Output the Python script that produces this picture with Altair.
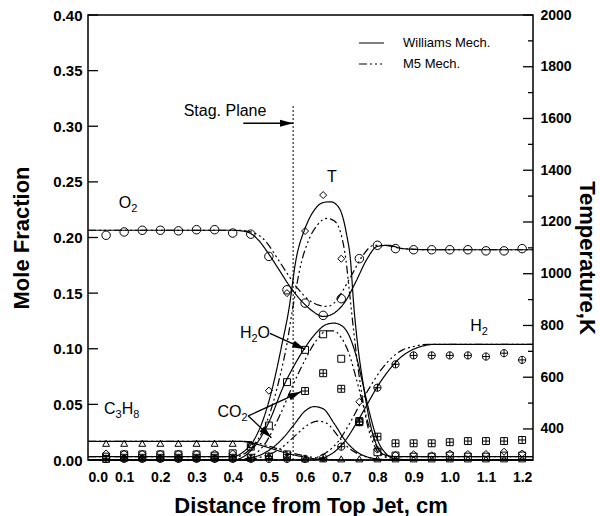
import math
import altair as alt
import pandas as pd

FONT = "Liberation Sans"

# ---------------- measured profiles (symbols) ----------------
x_meas = [0.05, 0.10, 0.15, 0.20, 0.25, 0.30, 0.35, 0.40, 0.45, 0.50, 0.55, 0.60,
          0.65, 0.70, 0.75, 0.80, 0.85, 0.90, 0.95, 1.00, 1.05, 1.10, 1.15, 1.20]
o2_meas = [0.202, 0.205, 0.2065, 0.2065, 0.206, 0.207, 0.207, 0.204, 0.203, 0.183, 0.153, 0.141,
           0.130, 0.145, 0.181, 0.193, 0.190, 0.189, 0.189, 0.189, 0.189, 0.188, 0.188, 0.190]
h2o_meas = [0.003, 0.005, 0.005, 0.005, 0.005, 0.005, 0.004, 0.006, 0.012, 0.031, 0.070, 0.099,
            0.113, 0.091, 0.034, 0.007, 0.004, 0.003, 0.003, 0.004, 0.003, 0.003, 0.004, 0.004]
co2_meas = [0.001, 0.002, 0.002, 0.002, 0.002, 0.002, 0.002, 0.002, 0.002, 0.003, 0.005, 0.062,
            0.078, 0.064, 0.035, 0.021, 0.015, 0.015, 0.015, 0.016, 0.017, 0.017, 0.017, 0.018]
h2_meas = [0.001, 0.001, 0.001, 0.001, 0.001, 0.001, 0.001, 0.001, 0.001, 0.001, 0.001, 0.001,
           0.002, 0.012, 0.034, 0.065, 0.086, 0.094, 0.094, 0.094, 0.094, 0.093, 0.096, 0.090]
c3h8_meas = [0.015, 0.015, 0.015, 0.015, 0.015, 0.015, 0.015, 0.015, 0.014, 0.004, 0.002, 0.001,
             0.001, 0.001, 0.001, 0.001, 0.001, 0.001, 0.001, 0.001, 0.001, 0.001, 0.001, 0.001]
t_meas = [305, 305, 305, 305, 305, 305, 305, 305, 335, 548, 925, 1165,
          1304, 1058, 505, 320, 300, 302, 298, 305, 303, 303, 312, 305]

# ---------------- computed profiles (curves) ----------------
o2_w_x = [0.00, 0.40, 0.44, 0.47, 0.50, 0.53, 0.56, 0.59, 0.62, 0.65, 0.68, 0.71, 0.74, 0.77, 0.80, 0.83, 0.87, 0.95, 1.23]
o2_w = [0.2065, 0.2065, 0.205, 0.198, 0.185, 0.170, 0.155, 0.143, 0.134, 0.129, 0.132, 0.142, 0.160, 0.180, 0.192, 0.193, 0.190, 0.189, 0.189]
o2_m5_x = [0.00, 0.42, 0.46, 0.49, 0.52, 0.55, 0.58, 0.61, 0.64, 0.66, 0.68, 0.70, 0.73, 0.76, 0.79, 0.82, 0.87, 0.95, 1.23]
o2_m5 = [0.2065, 0.2065, 0.204, 0.197, 0.183, 0.168, 0.154, 0.144, 0.139, 0.138, 0.141, 0.150, 0.167, 0.184, 0.193, 0.193, 0.190, 0.189, 0.189]

h2o_w_x = [0.00, 0.40, 0.43, 0.46, 0.50, 0.54, 0.57, 0.60, 0.63, 0.66, 0.68, 0.70, 0.72, 0.74, 0.76, 0.78, 0.80, 0.82, 0.85, 0.90, 1.23]
h2o_w = [0, 0, 0.003, 0.012, 0.034, 0.066, 0.085, 0.101, 0.114, 0.122, 0.123, 0.121, 0.113, 0.095, 0.068, 0.040, 0.018, 0.007, 0.001, 0, 0]
h2o_m5_x = [0.00, 0.42, 0.45, 0.49, 0.53, 0.57, 0.60, 0.63, 0.66, 0.68, 0.70, 0.72, 0.74, 0.76, 0.78, 0.80, 0.82, 0.85, 1.23]
h2o_m5 = [0, 0, 0.003, 0.015, 0.040, 0.070, 0.090, 0.107, 0.116, 0.116, 0.110, 0.097, 0.075, 0.050, 0.027, 0.011, 0.003, 0, 0]

co2_w_x = [0.00, 0.42, 0.45, 0.48, 0.51, 0.54, 0.57, 0.60, 0.625, 0.65, 0.68, 0.71, 0.74, 0.77, 0.80, 0.85, 1.23]
co2_w = [0, 0, 0.002, 0.005, 0.011, 0.020, 0.032, 0.044, 0.048, 0.046, 0.033, 0.018, 0.008, 0.003, 0.001, 0, 0]
co2_m5_x = [0.00, 0.44, 0.47, 0.50, 0.53, 0.56, 0.59, 0.61, 0.635, 0.66, 0.69, 0.72, 0.75, 0.78, 0.82, 1.23]
co2_m5 = [0, 0, 0.002, 0.005, 0.010, 0.018, 0.027, 0.032, 0.035, 0.033, 0.022, 0.011, 0.005, 0.002, 0, 0]

h2_w_x = [0.00, 0.62, 0.65, 0.68, 0.71, 0.74, 0.77, 0.80, 0.83, 0.86, 0.89, 0.92, 0.96, 1.23]
h2_w = [0, 0, 0.002, 0.007, 0.017, 0.032, 0.049, 0.066, 0.080, 0.091, 0.098, 0.102, 0.104, 0.104]
h2_m5_x = [0.00, 0.60, 0.63, 0.66, 0.69, 0.72, 0.75, 0.78, 0.81, 0.84, 0.87, 0.90, 0.94, 1.23]
h2_m5 = [0, 0, 0.002, 0.007, 0.016, 0.031, 0.049, 0.066, 0.081, 0.092, 0.099, 0.102, 0.104, 0.104]

c3h8_w_x = [0.00, 0.42, 0.45, 0.48, 0.51, 0.54, 0.57, 0.60, 0.63, 0.66, 0.70, 1.23]
c3h8_w = [0.0168, 0.0168, 0.0155, 0.013, 0.010, 0.007, 0.0045, 0.0025, 0.001, 0.0003, 0, 0]
c3h8_m5_x = [0.00, 0.43, 0.46, 0.49, 0.52, 0.55, 0.58, 0.61, 0.64, 0.68, 0.72, 1.23]
c3h8_m5 = [0.0168, 0.0168, 0.016, 0.0135, 0.0105, 0.0075, 0.005, 0.003, 0.0015, 0.0003, 0, 0]

t_w_x = [0.00, 0.40, 0.43, 0.46, 0.49, 0.52, 0.535, 0.555, 0.575, 0.60, 0.625, 0.65, 0.67, 0.69,
         0.705, 0.715, 0.725, 0.735, 0.745, 0.76, 0.78, 0.80, 0.82, 0.85, 1.23]
t_w = [293, 293, 312, 360, 460, 620, 720, 860, 1055, 1175, 1245, 1275, 1278, 1262,
       1215, 1150, 1060, 870, 730, 580, 420, 330, 300, 293, 293]
t_m5_x = [0.00, 0.41, 0.44, 0.47, 0.50, 0.53, 0.55, 0.565, 0.59, 0.61, 0.635, 0.66, 0.68, 0.70,
          0.713, 0.723, 0.735, 0.75, 0.77, 0.79, 0.81, 0.84, 1.23]
t_m5 = [293, 293, 312, 360, 450, 600, 730, 860, 1045, 1130, 1190, 1214, 1205, 1150,
        1053, 925, 770, 600, 430, 340, 300, 293, 293]

mechs = ["Williams Mech.", "M5 Mech."]

# ---------------- axes ----------------
x_domain = [0, 1.23]
x_ticks = [0.0, 0.1, 0.2, 0.3, 0.4, 0.5, 0.6, 0.7, 0.8, 0.9, 1.0, 1.1, 1.2]
mf_domain = [0, 0.4]
mf_ticks = [0.0, 0.05, 0.10, 0.15, 0.20, 0.25, 0.30, 0.35, 0.40]
t_domain = [280, 2000]
t_ticks = [400, 600, 800, 1000, 1200, 1400, 1600, 1800, 2000]
t_minor = [500, 700, 900, 1100, 1300, 1500, 1700, 1900]

W, H = 445, 445

# ---------------- annotations ----------------
stag_x = 0.567
stag_top = 0.319
# each label: list of (text, is_subscript) pieces, centred on (x, baseline y)
label_parts = [
    [("Stag. Plane", False)],
    [("T", False)],
    [("O", False), ("2", True)],
    [("H", False), ("2", True), ("O", False)],
    [("CO", False), ("2", True)],
    [("C", False), ("3", True), ("H", False), ("8", True)],
    [("H", False), ("2", True)],
]
label_x = [0.3787, 0.6744, 0.1106, 0.4616, 0.3994, 0.0931, 1.0807]
label_y = [0.3092, 0.2502, 0.2262, 0.1094, 0.0384, 0.0413, 0.1160]
arrow_x0 = [0.4292, 0.503, 0.443, 0.443]
arrow_y0 = [0.3027, 0.1139, 0.0396, 0.0396]
arrow_x1 = [0.5666, 0.600, 0.589, 0.507]
arrow_y1 = [0.3027, 0.0995, 0.0614, 0.0200]

MAIN_FS, SUB_FS, SUB_DROP = 16, 11, 4.0
# Arial / Liberation Sans advance widths (per em) for the glyphs used in the labels
ADV = {"S": 0.667, "t": 0.278, "a": 0.556, "g": 0.556, ".": 0.278, " ": 0.278,
       "P": 0.667, "l": 0.222, "n": 0.556, "e": 0.556, "T": 0.611, "O": 0.778,
       "H": 0.722, "C": 0.722, "2": 0.556, "3": 0.556, "8": 0.556}

kx = W / (x_domain[1] - x_domain[0])
ky = H / (mf_domain[1] - mf_domain[0])


def curves(rows):
    recs = []
    for species, mech, xs, ys in rows:
        for x, v in zip(xs, ys):
            recs.append({"x": x, "v": v, "species": species, "mech": mech})
    return pd.DataFrame(recs)


def label_pieces():
    recs = []
    for parts, cx, cy in zip(label_parts, label_x, label_y):
        widths = [sum(ADV[c] for c in txt) * (SUB_FS if sub else MAIN_FS) for txt, sub in parts]
        px = -sum(widths) / 2
        for (txt, sub), w in zip(parts, widths):
            recs.append({
                "x": cx + px / kx,
                "v": cy - (SUB_DROP / ky if sub else 0),
                "t": txt,
                "fs": SUB_FS if sub else MAIN_FS,
            })
            px += w
    return pd.DataFrame(recs)


X = alt.X("x:Q", scale=alt.Scale(domain=x_domain, nice=False, zero=False),
          axis=alt.Axis(values=x_ticks, format=".1f", ticks=False, labelPadding=10,
                        labelFontSize=14, title="Distance from Top Jet, cm",
                        titleX=W / 2, titleY=52, titleBaseline="alphabetic"))
Y_MF = alt.Y("v:Q", scale=alt.Scale(domain=mf_domain, nice=False, zero=False),
             axis=alt.Axis(values=mf_ticks, format=".2f", ticks=False, labelPadding=6,
                           labelFontSize=15, title="Mole Fraction", titleAngle=270,
                           titleBaseline="middle", titleX=-66.7, titleY=H / 2))
Y_T = alt.Y("v:Q", scale=alt.Scale(domain=t_domain, nice=False, zero=False),
            axis=alt.Axis(orient="right", values=t_ticks, format="d", ticks=False,
                          labelPadding=7, labelFontSize=14, title="Temperature,K",
                          titleAngle=90, titleBaseline="middle", titleX=53.2, titleY=242.5))
DASH = alt.StrokeDash(
    "mech:N",
    scale=alt.Scale(domain=mechs, range=[[1, 0], [8, 3, 2, 3, 2, 3, 2, 3]]),
    legend=alt.Legend(orient="none", legendX=270, legendY=14.5, title=None,
                      symbolType="stroke", symbolSize=625, symbolStrokeWidth=1.2,
                      symbolStrokeColor="black", labelFont=FONT, labelFontSize=13,
                      labelOffset=18, rowPadding=-13.3, padding=0),
)

# mole-fraction side
mf_curves = curves([
    ("O2", mechs[0], o2_w_x, o2_w), ("O2", mechs[1], o2_m5_x, o2_m5),
    ("H2O", mechs[0], h2o_w_x, h2o_w), ("H2O", mechs[1], h2o_m5_x, h2o_m5),
    ("CO2", mechs[0], co2_w_x, co2_w), ("CO2", mechs[1], co2_m5_x, co2_m5),
    ("H2", mechs[0], h2_w_x, h2_w), ("H2", mechs[1], h2_m5_x, h2_m5),
    ("C3H8", mechs[0], c3h8_w_x, c3h8_w), ("C3H8", mechs[1], c3h8_m5_x, c3h8_m5),
])
mf_lines = alt.Chart(mf_curves).mark_line(
    color="black", strokeWidth=1.2, interpolate="monotone"
).encode(x=X, y=Y_MF, detail="species:N", strokeDash=DASH)

SQ_PLUS = "M-1,-1H1V1H-1Z M0,-1V1 M-1,0H1"
CIRC_PLUS = "M-1,0A1,1,0,1,1,1,0A1,1,0,1,1,-1,0Z M0,-1V1 M-1,0H1"
symbol_sets = [
    (o2_meas, "circle", 72),
    (h2o_meas, "square", 48),
    (co2_meas, SQ_PLUS, 48),
    (h2_meas, CIRC_PLUS, 52),
    (c3h8_meas, "triangle-up", 48),
]
mf_points = [
    alt.Chart(pd.DataFrame({"x": x_meas, "v": vals})).mark_point(
        shape=shape, size=size, filled=False, color="black", strokeWidth=1, opacity=1
    ).encode(x=X, y=Y_MF)
    for vals, shape, size in symbol_sets
]

mf_tick_marks = alt.Chart(pd.DataFrame({"v": mf_ticks})).mark_rule(
    color="black", strokeWidth=1.3
).encode(y=Y_MF, x=alt.value(0), x2=alt.value(10))

stag_line = alt.Chart(pd.DataFrame({"x": [stag_x], "v": [0.0], "v2": [stag_top]})).mark_rule(
    color="black", strokeWidth=1, strokeDash=[2, 2]
).encode(x=X, y=Y_MF, y2="v2:Q")

labels = alt.Chart(label_pieces()).mark_text(
    font=FONT, color="black", align="left", baseline="alphabetic"
).encode(x=X, y=Y_MF, text="t:N", size=alt.Size("fs:Q", scale=None, legend=None))

arrow_ang = []
for x0, y0, x1, y1 in zip(arrow_x0, arrow_y0, arrow_x1, arrow_y1):
    dx = (x1 - x0) * kx
    dy = -(y1 - y0) * ky
    arrow_ang.append(math.degrees(math.atan2(dx, -dy)) % 360)
arrows_df = pd.DataFrame({"x": arrow_x0, "v": arrow_y0, "x2": arrow_x1, "v2": arrow_y1})
shafts = alt.Chart(arrows_df).mark_rule(color="black", strokeWidth=1.3).encode(
    x=X, y=Y_MF, x2="x2:Q", y2="v2:Q")
heads = alt.Chart(pd.DataFrame({"x": arrow_x1, "v": arrow_y1, "ang": arrow_ang})).mark_point(
    shape="M0,0L0.55,2L-0.55,2Z", size=169, filled=True, color="black", opacity=1, strokeWidth=0
).encode(x=X, y=Y_MF, angle=alt.Angle("ang:Q", scale=None))

left = alt.layer(mf_lines, *mf_points, mf_tick_marks, stag_line, shafts, heads, labels)

# temperature side
t_curves = curves([("T", mechs[0], t_w_x, t_w), ("T", mechs[1], t_m5_x, t_m5)])
t_lines = alt.Chart(t_curves).mark_line(
    color="black", strokeWidth=1.2, interpolate="monotone"
).encode(x=X, y=Y_T, detail="species:N", strokeDash=DASH)
t_points = alt.Chart(pd.DataFrame({"x": x_meas, "v": t_meas})).mark_point(
    shape="diamond", size=50, filled=False, color="black", strokeWidth=1, opacity=1
).encode(x=X, y=Y_T)
t_major = alt.Chart(pd.DataFrame({"v": t_ticks})).mark_rule(color="black", strokeWidth=1.3).encode(
    y=Y_T, x=alt.value(W - 10), x2=alt.value(W))
t_minor_marks = alt.Chart(pd.DataFrame({"v": t_minor})).mark_rule(color="black", strokeWidth=1.3).encode(
    y=Y_T, x=alt.value(W - 5), x2=alt.value(W))

right = alt.layer(t_lines, t_points, t_major, t_minor_marks)

chart = alt.layer(left, right).resolve_scale(y="independent").properties(
    width=W, height=H,
    autosize=alt.AutoSizeParams(type="none"),
    padding={"left": 88, "top": 15, "right": 67, "bottom": 56},
    background="white",
).configure_view(
    stroke="black", strokeWidth=1.5
).configure_axis(
    grid=False, domain=False, labelFont=FONT, labelFontWeight="bold", labelColor="black",
    titleFont=FONT, titleFontWeight="bold", titleFontSize=22, titleColor="black"
)

chart.save("out.html", embed_options={"renderer": "svg", "actions": False})
